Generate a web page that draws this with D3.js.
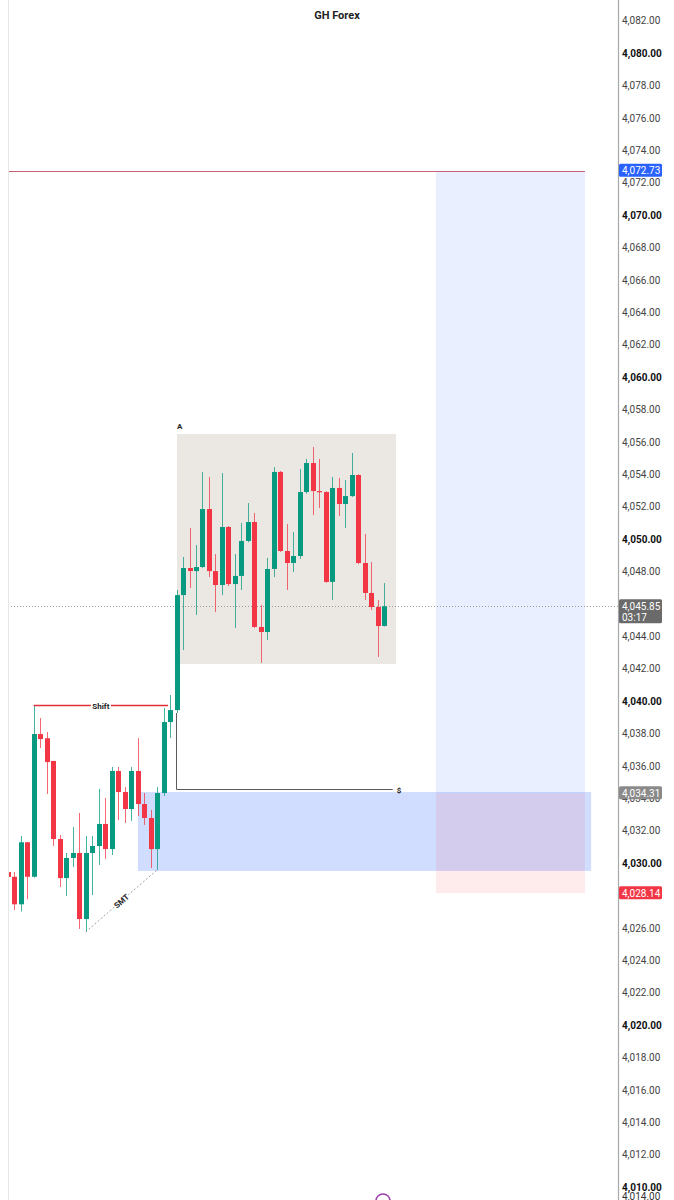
<!DOCTYPE html>
<html><head><meta charset="utf-8">
<script src="https://cdn.jsdelivr.net/npm/d3@7"></script>
<style>html,body{margin:0;padding:0;background:#fff;}svg{display:block;font-family:Roboto,"Noto Sans",sans-serif;}</style>
</head><body>
<script>
// ---- data ----
const opens  = [4029.44,4029.15,4027.45,4031.28,4029.15,4037.96,4037.70,4036.30,4031.48,4029.07,4030.31,4030.62,4026.54,4030.62,4031.05,4032.41,4030.86,4035.68,4034.38,4033.33,4035.68,4033.64,4032.78,4030.86,4034.32,4038.70,4039.44,4046.54,4048.21,4048.02,4048.27,4051.85,4048.02,4047.16,4050.74,4047.22,4047.72,4049.88,4051.05,4044.57,4044.26,4048.15,4054.14,4049.26,4048.52,4048.95,4052.90,4054.69,4052.96,4052.90,4047.35,4053.15,4052.16,4052.65,4053.95,4048.52,4046.67,4045.80,4044.63];
const highs  = [4029.57,4029.44,4031.67,4031.30,4039.75,4038.95,4038.09,4036.30,4031.73,4030.62,4032.22,4033.09,4031.67,4031.67,4034.57,4034.01,4035.93,4035.93,4034.69,4035.93,4037.72,4034.32,4033.27,4034.69,4039.57,4040.37,4046.85,4048.89,4050.68,4049.63,4054.14,4053.83,4049.07,4054.07,4050.80,4049.07,4050.99,4052.22,4051.60,4045.93,4048.83,4054.44,4054.20,4050.93,4050.43,4054.32,4054.94,4055.68,4054.94,4052.95,4053.83,4053.77,4053.64,4055.31,4054.00,4050.31,4048.58,4046.23,4047.28];
const lows   = [4028.95,4027.10,4027.00,4027.76,4029.10,4037.10,4034.26,4031.05,4028.52,4027.96,4029.75,4025.93,4025.74,4028.02,4029.88,4030.25,4030.49,4032.65,4032.47,4032.60,4032.90,4032.35,4029.69,4029.57,4034.14,4037.72,4039.26,4043.15,4046.98,4045.31,4048.20,4047.65,4045.49,4046.54,4047.10,4044.51,4046.85,4049.80,4044.50,4042.35,4043.77,4047.65,4049.20,4046.85,4047.96,4048.77,4052.80,4051.48,4051.91,4047.30,4046.23,4051.42,4050.68,4052.60,4048.45,4046.23,4045.62,4042.72,4044.60];
const closes = [4029.14,4027.45,4031.28,4029.15,4037.96,4037.65,4036.23,4031.48,4029.07,4030.31,4030.62,4026.54,4030.62,4031.05,4032.41,4030.86,4035.68,4034.38,4033.33,4035.68,4033.64,4032.78,4030.86,4034.32,4038.70,4039.44,4046.54,4048.21,4048.02,4048.27,4051.85,4048.02,4047.16,4050.74,4047.22,4047.72,4049.88,4051.05,4044.57,4044.26,4048.15,4054.14,4049.26,4048.52,4048.95,4052.90,4054.69,4052.96,4052.90,4047.35,4053.15,4052.16,4052.65,4053.95,4048.52,4046.67,4045.80,4044.63,4045.85];

// 4,028.00 is hidden under the stop-price tag in the reference
const tickValues = [4010,4012,4014,4016,4018,4020,4022,4024,4026,4030,4032,4034,4036,4038,4040,4042,4044,4046,4048,4050,4052,4054,4056,4058,4060,4062,4064,4066,4068,4070,4072,4074,4076,4078,4080,4082];
const boldTicks = [4010,4020,4030,4040,4050,4060,4070,4080];

const targetLevel = 4072.73, entryLevel = 4034.31, stopLevel = 4028.14, lastPrice = 4045.85;
const targetRange = [65.95, 88.9];     // candle-index span of position tool
const fvg = {x0: 20.05, x1: 89.85, top: 4034.38, bottom: 4029.51};
const boxA = {x0: 26.07, x1: 59.8, top: 4056.48, bottom: 4042.28};
const shift = {i0: 4, i1: 24.7, level: 4039.75};
const liq = {i0: 26, i1: 59.3, level: 4034.57};
const smt = {i0: 12, i1: 23};

const priceTags = [
  {v: 4072.73, text: ["4,072.73"], fill: "#2962ff"},
  {v: 4045.85, text: ["4,045.85","03:17"], fill: "#6a6a6a"},
  {v: 4034.31, text: ["4,034.31"], fill: "#8a8a8a"},
  {v: 4028.14, text: ["4,028.14"], fill: "#f23645"}
];

// ---- setup ----
const W = 674, H = 1200;
const svg = d3.select("body").append("svg").attr("width", W).attr("height", H);
svg.append("rect").attr("width", W).attr("height", H).attr("fill", "#fff");

const y = d3.scaleLinear().domain([4010, 4080]).range([1187, 53]);
const x = d3.scaleLinear().domain([0, 58]).range([7.7, 384.3]);
const axisX = 618, plotLeft = 8;

svg.append("clipPath").attr("id","plot").append("rect")
  .attr("x", plotLeft).attr("y", 0).attr("width", axisX - plotLeft).attr("height", H);
const g = svg.append("g").attr("clip-path","url(#plot)");

// left border
svg.append("line").attr("x1", plotLeft+0.5).attr("x2", plotLeft+0.5).attr("y1",0).attr("y2",H)
  .attr("stroke","#e6e6e6");

// position tool zones
g.append("rect").attr("x", x(targetRange[0])).attr("width", x(targetRange[1]) - x(targetRange[0]))
  .attr("y", y(targetLevel)).attr("height", y(entryLevel) - y(targetLevel))
  .attr("fill", "rgba(41,98,255,0.10)");
// FVG
g.append("rect").attr("x", x(fvg.x0)).attr("width", x(fvg.x1) - x(fvg.x0))
  .attr("y", y(fvg.top)).attr("height", y(fvg.bottom) - y(fvg.top))
  .attr("fill", "rgba(41,98,255,0.22)");
g.append("rect").attr("x", x(targetRange[0])).attr("width", x(targetRange[1]) - x(targetRange[0]))
  .attr("y", y(entryLevel)).attr("height", y(stopLevel) - y(entryLevel))
  .attr("fill", "rgba(242,54,69,0.10)");
// target line
g.append("line").attr("x1", plotLeft).attr("x2", x(targetRange[1]))
  .attr("y1", Math.round(y(targetLevel))+0.5).attr("y2", Math.round(y(targetLevel))+0.5)
  .attr("stroke", "#c8607a").attr("stroke-width", 1);

// Box A
g.append("rect").attr("x", x(boxA.x0)).attr("width", x(boxA.x1) - x(boxA.x0))
  .attr("y", y(boxA.top)).attr("height", y(boxA.bottom) - y(boxA.top))
  .attr("fill", "#ebe8e3");
g.append("text").attr("x", x(boxA.x0)).attr("y", y(boxA.top) - 5)
  .attr("font-size", 8).attr("font-weight", "bold").attr("fill", "#222").text("A");

// last price dotted line
g.append("line").attr("x1", plotLeft).attr("x2", axisX)
  .attr("y1", Math.round(y(lastPrice))+0.5).attr("y2", Math.round(y(lastPrice))+0.5)
  .attr("stroke", "#9a9a9a").attr("stroke-dasharray", "1,2");

// liquidity line
const ly = Math.round(y(liq.level)) + 0.5;
g.append("path").attr("d", `M${x(liq.i0)},${y(lows[liq.i0])}L${x(liq.i0)},${ly}L${x(liq.i1)},${ly}`)
  .attr("fill","none").attr("stroke","#5a5a5a").attr("stroke-width",1);
g.append("text").attr("x", x(liq.i1) + 4).attr("y", ly + 3)
  .attr("font-size", 8).attr("font-weight","bold").attr("fill","#222").text("$");

// candles
const idx = d3.range(opens.length);
const up = "#089981", dn = "#f23645";
const bw = 5;
g.selectAll(".wick").data(idx).join("line")
  .attr("x1", i => Math.round(x(i)) + 0.5).attr("x2", i => Math.round(x(i)) + 0.5)
  .attr("y1", i => y(highs[i])).attr("y2", i => y(lows[i]))
  .attr("stroke", i => closes[i] >= opens[i] ? up : dn).attr("stroke-opacity", 0.75);
g.selectAll(".body").data(idx).join("rect")
  .attr("x", i => Math.round(x(i)) + 0.5 - bw/2).attr("width", bw)
  .attr("y", i => y(Math.max(opens[i], closes[i])))
  .attr("height", i => Math.max(1.2, Math.abs(y(opens[i]) - y(closes[i]))))
  .attr("fill", i => closes[i] >= opens[i] ? up : dn);

// Shift line
const sy = Math.round(y(shift.level)) + 0.5;
const sx0 = x(shift.i0), sx1 = x(shift.i1);
g.append("line").attr("x1", sx0).attr("x2", sx1).attr("y1", sy).attr("y2", sy)
  .attr("stroke", "#e0303a").attr("stroke-width", 1.3);
const smid = (sx0 + sx1) / 2;
g.append("rect").attr("x", smid - 10).attr("y", sy - 5).attr("width", 20).attr("height", 10).attr("fill","#fff");
g.append("text").attr("x", smid).attr("y", sy + 3).attr("text-anchor","middle")
  .attr("font-size", 8).attr("font-weight","bold").attr("fill","#222").text("Shift");

// SMT dashed line
const p0 = [x(smt.i0), y(lows[smt.i0])], p1 = [x(smt.i1), y(lows[smt.i1])];
g.append("line").attr("x1", p0[0]).attr("y1", p0[1]).attr("x2", p1[0]).attr("y2", p1[1])
  .attr("stroke","#8a8a8a").attr("stroke-width",0.8).attr("stroke-dasharray","2,2");
const ang = Math.atan2(p1[1]-p0[1], p1[0]-p0[0]) * 180 / Math.PI;
const mx = (p0[0]+p1[0])/2, my = (p0[1]+p1[1])/2;
const smtG = g.append("g").attr("transform", `translate(${mx},${my}) rotate(${ang})`);
smtG.append("rect").attr("x",-9).attr("y",-5).attr("width",18).attr("height",10).attr("fill","#fff");
smtG.append("text").attr("y",3).attr("text-anchor","middle").attr("font-size",8)
  .attr("font-weight","bold").attr("fill","#222").text("SMT");

// title
svg.append("text").attr("x", 337).attr("y", 19).attr("text-anchor","middle")
  .attr("font-size", 11).attr("font-weight","bold").attr("fill","#222").text("GH Forex");

// axis
const axis = d3.axisRight(y).tickValues(tickValues).tickFormat(d3.format(",.2f")).tickSize(0).tickPadding(4);
const ag = svg.append("g").attr("transform", `translate(${axisX},0)`).call(axis);
ag.select(".domain").remove();
ag.selectAll("text").attr("font-size", 10).attr("font-family","Roboto, sans-serif")
  .attr("fill", d => boldTicks.includes(d) ? "#111" : "#444")
  .attr("font-weight", d => boldTicks.includes(d) ? "bold" : "normal");
svg.append("line").attr("x1", axisX+0.5).attr("x2", axisX+0.5).attr("y1", 0).attr("y2", H)
  .attr("stroke","#a8a8a8").attr("stroke-width",1.2);

// extra cut-off label at the bottom
svg.append("text").attr("x", axisX + 4).attr("y", 1200).attr("font-size", 10)
  .attr("fill","#333").text(d3.format(",.2f")(4014));

// price tags
const tags = svg.append("g").selectAll("g").data(priceTags).join("g")
  .attr("transform", d => `translate(${axisX+1},${y(d.v)})`);
tags.append("rect").attr("x", 0).attr("y", -7).attr("width", 43)
  .attr("height", d => 13 + (d.text.length - 1) * 11).attr("rx", 1.5)
  .attr("fill", d => d.fill);
tags.each(function(d){
  const t = d3.select(this);
  d.text.forEach((s, k) => {
    t.append("text").attr("x", 3).attr("y", 3.5 + k*11).attr("font-size", 10)
      .attr("fill", "#fff").text(s);
  });
});

// bottom purple circle
svg.append("circle").attr("cx", 383).attr("cy", 1201).attr("r", 7)
  .attr("fill","#fff").attr("stroke","#9b3fae").attr("stroke-width",1.5);
</script>
</body></html>
